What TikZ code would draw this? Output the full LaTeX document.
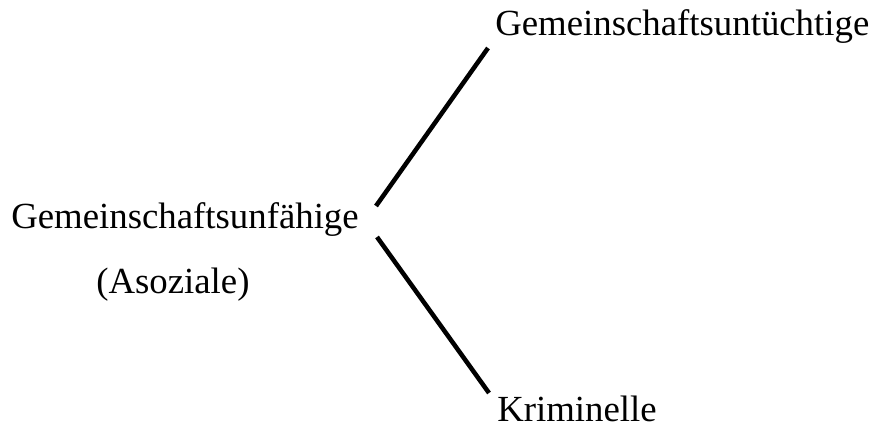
\documentclass[tikz,border=0pt]{standalone}
\usepackage{fontspec}
\setmainfont{Liberation Serif}
\begin{document}
\begin{tikzpicture}[x=0.75pt,y=-0.75pt,
  lbl/.style={anchor=base west,inner sep=0pt,font=\fontsize{27.6}{33}\selectfont},
  conn/.style={line width=3.4pt}]
\useasboundingbox (0,0) rectangle (877,427);
\node[lbl] (top) at (495,36) {Gemeinschaftsuntüchtige};
\node[lbl] (mid) at (11,229) {Gemeinschaftsunfähige};
\node[lbl] (aso) at (96,294) {(Asoziale)};
\node[lbl] (krim) at (497,421) {Kriminelle};
\coordinate (a1) at (376,206);
\coordinate (a2) at (488,48);
\coordinate (b1) at (377,237);
\coordinate (b2) at (489,393);
\draw[conn] (a1) -- (a2);
\draw[conn] (b1) -- (b2);
\end{tikzpicture}
\end{document}
